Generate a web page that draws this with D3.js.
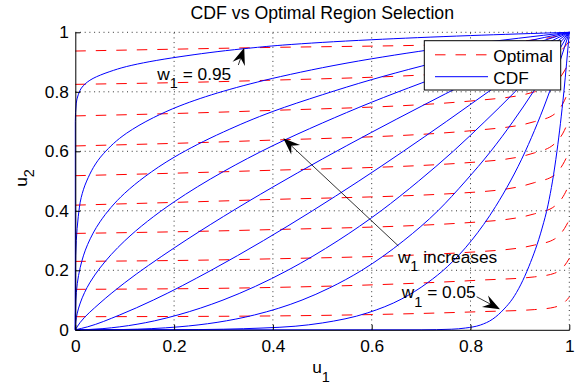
<!DOCTYPE html>
<html>
<head>
<meta charset="utf-8">
<script src="https://cdn.jsdelivr.net/npm/d3@7"></script>
<style>
  body { margin: 0; background: #fff; }
  svg { display: block; }
  text { font-family: "Liberation Sans", Arial, Helvetica, sans-serif; fill: #000; }
</style>
</head>
<body>
<svg id="chart" width="581" height="385"></svg>
<script>
// tick values / labels
const xTicks = [0, 0.2, 0.4, 0.6, 0.8, 1];
const yTicks = [0, 0.2, 0.4, 0.6, 0.8, 1];
const tickLabels = ['0', '0.2', '0.4', '0.6', '0.8', '1'];
const gridVals = [0.2, 0.4, 0.6, 0.8, 1];

// "CDF" curves, [u1, u2] (w1 = 0.95 ... 0.05)
const cdf95 = [[0,0],[0,0.7],[0.002,0.762],[0.006,0.79],[0.016,0.82],[0.036,0.845],[0.07,0.868],[0.104,0.885],[0.212,0.918],[0.342,0.945],[0.42,0.957],[0.6,0.975],[0.8,0.989],[1,1]];
const cdf85 = [[0,0],[0.0003,0.2],[0.002,0.3],[0.006,0.38],[0.012,0.445],[0.023,0.5],[0.057,0.592],[0.104,0.661],[0.158,0.713],[0.212,0.753],[0.3,0.802],[0.415,0.851],[0.6,0.911],[0.8,0.96],[1,1]];
const cdf75 = [[0,0],[0.0002,0.05],[0.001,0.097],[0.004,0.155],[0.01,0.21],[0.025,0.287],[0.05,0.363],[0.1,0.459],[0.141,0.515],[0.2,0.58],[0.3,0.665],[0.4,0.734],[0.5,0.79],[0.6,0.841],[0.7,0.886],[0.8,0.927],[0.9,0.965],[1,1]];
const cdf65 = [[0,0],[0.001,0.027],[0.004,0.056],[0.01,0.09],[0.03,0.16],[0.05,0.208],[0.1,0.299],[0.2,0.43],[0.3,0.532],[0.4,0.619],[0.5,0.695],[0.6,0.765],[0.7,0.829],[0.8,0.89],[0.9,0.946],[1,1]];
const cdf55 = [[0,0],[0.01,0.025],[0.05,0.09],[0.1,0.158],[0.2,0.275],[0.3,0.381],[0.4,0.48],[0.5,0.574],[0.6,0.664],[0.7,0.751],[0.8,0.836],[0.9,0.919],[1,1]];
const cdf45 = [[0,0],[0.025,0.01],[0.09,0.05],[0.158,0.1],[0.275,0.2],[0.381,0.3],[0.48,0.4],[0.574,0.5],[0.664,0.6],[0.751,0.7],[0.836,0.8],[0.919,0.9],[1,1]];
const cdf35 = [[0,0],[0.027,0.001],[0.056,0.004],[0.09,0.01],[0.16,0.03],[0.208,0.05],[0.299,0.1],[0.43,0.2],[0.532,0.3],[0.619,0.4],[0.695,0.5],[0.765,0.6],[0.829,0.7],[0.89,0.8],[0.946,0.9],[1,1]];
const cdf25 = [[0,0],[0.05,0.0002],[0.097,0.001],[0.155,0.004],[0.21,0.01],[0.287,0.025],[0.363,0.05],[0.459,0.1],[0.515,0.141],[0.58,0.2],[0.665,0.3],[0.734,0.4],[0.79,0.5],[0.841,0.6],[0.886,0.7],[0.927,0.8],[0.965,0.9],[1,1]];
const cdf15 = [[0,0],[0.2,0.0003],[0.3,0.002],[0.38,0.006],[0.445,0.012],[0.5,0.023],[0.592,0.057],[0.661,0.104],[0.713,0.158],[0.753,0.212],[0.802,0.3],[0.851,0.415],[0.911,0.6],[0.96,0.8],[1,1]];
const cdf05 = [[0,0],[0.7,0],[0.762,0.002],[0.79,0.006],[0.82,0.016],[0.845,0.036],[0.868,0.07],[0.885,0.104],[0.918,0.212],[0.945,0.342],[0.957,0.42],[0.975,0.6],[0.989,0.8],[1,1]];
// curves above the diagonal are drawn as u1(u2), those below as u2(u1)
const cdfUpper = [cdf95, cdf85, cdf75, cdf65, cdf55];
const cdfLower = [cdf45, cdf35, cdf25, cdf15, cdf05];

// "Optimal" region boundaries, [u1, u2]
const opt1  = [[0,0.044],[0.354,0.046],[0.82,0.061],[0.93,0.068],[0.97,0.076],[0.99,0.092],[1,0.11]];
const opt2  = [[0,0.136],[0.354,0.141],[0.82,0.167],[0.93,0.178],[0.97,0.19],[0.99,0.215],[1,0.24]];
const opt3  = [[0,0.230],[0.354,0.237],[0.82,0.263],[0.93,0.285],[0.97,0.305],[0.99,0.34],[1,0.37]];
const opt4  = [[0,0.324],[0.354,0.335],[0.82,0.363],[0.93,0.39],[0.97,0.415],[0.99,0.455],[1,0.49]];
const opt5  = [[0,0.419],[0.354,0.436],[0.82,0.464],[0.93,0.495],[0.97,0.52],[0.99,0.565],[1,0.6]];
const opt6  = [[0,0.518],[0.354,0.534],[0.82,0.565],[0.93,0.595],[0.97,0.625],[0.99,0.67],[1,0.71]];
const opt7  = [[0,0.618],[0.354,0.635],[0.82,0.672],[0.93,0.70],[0.97,0.725],[0.99,0.77],[1,0.81]];
const opt8  = [[0,0.719],[0.354,0.735],[0.82,0.772],[0.93,0.80],[0.97,0.825],[0.99,0.87],[1,0.9]];
const opt9  = [[0,0.825],[0.354,0.837],[0.82,0.87],[0.93,0.895],[0.97,0.92],[0.99,0.95],[1,0.97]];
const opt10 = [[0,0.937],[0.354,0.948],[0.82,0.962],[0.93,0.975],[0.97,0.985],[0.99,0.995],[1,1]];
const optCurves = [opt1, opt2, opt3, opt4, opt5, opt6, opt7, opt8, opt9, opt10];

// annotations: text anchor and arrow (from -> tip), data units
const notes = [
  { label: '= 0.95', tx: 0.166, ty: 0.840, from: [0.330, 0.890], to: [0.342, 0.948] },
  { label: 'increases', tx: 0.653, ty: 0.2255, from: [0.654, 0.282], to: [0.421, 0.644] },
  { label: '= 0.05', tx: 0.661, ty: 0.106, from: [0.8125, 0.111], to: [0.8597, 0.069] }
];

const svg = d3.select('#chart');
const x = d3.scaleLinear().domain([0, 1]).range([75.3, 569.3]);
const y = d3.scaleLinear().domain([0, 1]).range([329.8, 32.3]);
const fs = 17.3;
const fsSub = 14.5;

// grid
const grid = svg.append('g').attr('stroke', '#000').attr('stroke-width', 0.8).attr('stroke-dasharray', '1,3.7');
grid.selectAll('.gx').data(gridVals).enter().append('line')
  .attr('x1', d => x(d)).attr('x2', d => x(d)).attr('y1', y(0)).attr('y2', y(1));
grid.selectAll('.gy').data(gridVals).enter().append('line')
  .attr('y1', d => y(d)).attr('y2', d => y(d)).attr('x1', x(0)).attr('x2', x(1));

const optLine = d3.line().x(d => x(d[0])).y(d => y(d[1])).curve(d3.curveMonotoneX);
const upperLine = d3.line().x(d => x(d[0])).y(d => y(d[1])).curve(d3.curveMonotoneY);
const lowerLine = d3.line().x(d => x(d[0])).y(d => y(d[1])).curve(d3.curveMonotoneX);

svg.append('g').selectAll('path').data(optCurves).enter().append('path')
  .attr('d', optLine).attr('fill', 'none').attr('stroke', '#ff0000').attr('stroke-width', 1)
  .attr('stroke-dasharray', '10.5,10');

const blue = svg.append('g').attr('fill', 'none').attr('stroke', '#0000ff').attr('stroke-width', 1);
blue.selectAll('.up').data(cdfUpper).enter().append('path').attr('d', upperLine);
blue.selectAll('.lo').data(cdfLower).enter().append('path').attr('d', lowerLine);

// axes
const xAxis = svg.append('g').attr('transform', `translate(0,${y(0)})`)
  .call(d3.axisBottom(x).tickValues(xTicks).tickSize(-5).tickSizeOuter(0).tickPadding(10.3)
    .tickFormat((d, i) => tickLabels[i]));
const yAxis = svg.append('g').attr('transform', `translate(${x(0)},0)`)
  .call(d3.axisLeft(y).tickValues(yTicks).tickSize(-5).tickSizeOuter(0).tickPadding(6.5)
    .tickFormat((d, i) => tickLabels[i]));
[xAxis, yAxis].forEach(a => {
  a.attr('font-family', null).attr('font-size', null);
  a.selectAll('text').style('font-size', fs + 'px');
  a.selectAll('path,line').attr('stroke', '#000');
});

// title and axis labels
svg.append('text').attr('x', 322.3).attr('y', 18.5).attr('text-anchor', 'middle')
  .style('font-size', '17.7px').text('CDF vs Optimal Region Selection');

const xl = svg.append('text').attr('x', 321).attr('y', 373).attr('text-anchor', 'middle').style('font-size', fs + 'px');
xl.append('tspan').text('u');
xl.append('tspan').attr('dy', 8.5).style('font-size', fsSub + 'px').text('1');

const yl = svg.append('text').attr('transform', 'translate(27,178) rotate(-90)').attr('text-anchor', 'middle').style('font-size', fs + 'px');
yl.append('tspan').text('u');
yl.append('tspan').attr('dy', 7).style('font-size', fsSub + 'px').text('2');

// legend
const lg = svg.append('g');
lg.append('rect').attr('x', 424.3).attr('y', 40.7).attr('width', 136.4).attr('height', 49.3)
  .attr('fill', '#fff').attr('stroke', '#000').attr('stroke-width', 1);
lg.append('line').attr('x1', 435).attr('x2', 487).attr('y1', 54.8).attr('y2', 54.8)
  .attr('stroke', '#ff0000').attr('stroke-dasharray', '10.5,10');
lg.append('line').attr('x1', 435).attr('x2', 488).attr('y1', 76.7).attr('y2', 76.7)
  .attr('stroke', '#0000ff');
lg.append('text').attr('x', 493.3).attr('y', 61.5).style('font-size', fs + 'px').text('Optimal');
lg.append('text').attr('x', 493.3).attr('y', 83.5).style('font-size', fs + 'px').text('CDF');

// annotations
notes.forEach(n => {
  const t = svg.append('text').attr('x', x(n.tx)).attr('y', y(n.ty)).style('font-size', fs + 'px');
  t.append('tspan').text('w');
  t.append('tspan').attr('dy', 8.5).style('font-size', fsSub + 'px').text('1');
  t.append('tspan').attr('dy', -8.5).text('\u00a0' + n.label);

  const x0 = x(n.from[0]), y0 = y(n.from[1]), x1 = x(n.to[0]), y1 = y(n.to[1]);
  const ang = Math.atan2(y1 - y0, x1 - x0);
  const L = 17, W = 6.5, N = 11;
  const ux = Math.cos(ang), uy = Math.sin(ang);
  const bx = x1 - ux * L, by = y1 - uy * L;
  const nx = x1 - ux * N, ny = y1 - uy * N;
  svg.append('line').attr('x1', x0).attr('y1', y0).attr('x2', nx).attr('y2', ny)
    .attr('stroke', '#000').attr('stroke-width', 0.8);
  svg.append('path')
    .attr('d', `M${x1},${y1}L${bx - uy * W},${by + ux * W}L${nx},${ny}L${bx + uy * W},${by - ux * W}Z`)
    .attr('fill', '#000');
});
</script>
</body>
</html>
